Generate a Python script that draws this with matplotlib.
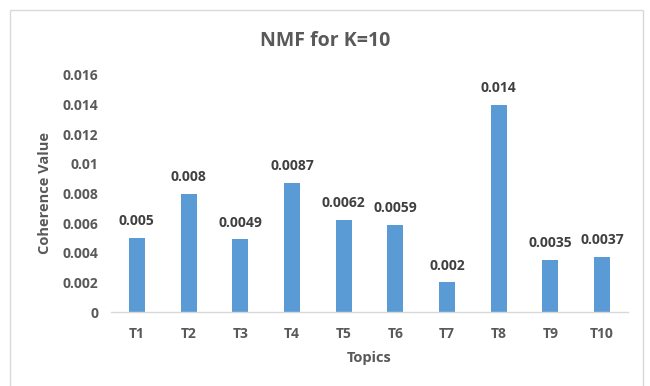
import matplotlib
matplotlib.use("Agg")
import matplotlib.pyplot as plt
from matplotlib.patches import Rectangle

topics = ["T1", "T2", "T3", "T4", "T5", "T6", "T7", "T8", "T9", "T10"]
coherence = [0.005, 0.008, 0.0049, 0.0087, 0.0062, 0.0059, 0.002, 0.014, 0.0035, 0.0037]
value_labels = ["0.005", "0.008", "0.0049", "0.0087", "0.0062", "0.0059", "0.002", "0.014", "0.0035", "0.0037"]
y_ticks = [0, 0.002, 0.004, 0.006, 0.008, 0.01, 0.012, 0.014, 0.016]
y_tick_labels = ["0", "0.002", "0.004", "0.006", "0.008", "0.01", "0.012", "0.014", "0.016"]

plt.rcParams["font.family"] = ["Open Sans", "DejaVu Sans"]
text_color = "#595959"
bar_color = "#5B9BD5"

W, H = 650, 386
fig = plt.figure(figsize=(W / 100, H / 100), dpi=100)
fig.patch.set_facecolor("white")

# chart area border
fig.patches.append(Rectangle((10 / W, -0.05), 633 / W, (H - 10) / H + 0.05,
                             transform=fig.transFigure, fill=False,
                             edgecolor="#D9D9D9", linewidth=1.0))

ax = fig.add_axes([111 / W, (H - 312) / H, (628 - 111) / W, (312 - 75) / H])
x = list(range(len(topics)))
ax.bar(x, coherence, width=0.31, color=bar_color)
ax.set_xlim(-0.5, len(topics) - 0.5)
ax.set_ylim(0, 0.016)

for xi, v, lab in zip(x, coherence, value_labels):
    ax.annotate(lab, (xi, v), xytext=(0, 7), textcoords="offset points",
                ha="center", va="bottom", fontsize=10, fontweight="bold",
                color="#404040")

ax.set_xticks(x)
ax.set_xticklabels(topics, fontsize=10, fontweight="bold", color=text_color)
ax.set_yticks(y_ticks)
ax.set_yticklabels(y_tick_labels, fontsize=10, fontweight="bold", color=text_color)
ax.tick_params(axis="both", length=0)
ax.tick_params(axis="x", pad=11)
ax.tick_params(axis="y", pad=9)

for side in ["top", "right", "left"]:
    ax.spines[side].set_visible(False)
ax.spines["bottom"].set_color("#D9D9D9")
ax.spines["bottom"].set_linewidth(1.0)

ax.set_xlabel("Topics", fontsize=10.5, fontweight="bold", color=text_color, labelpad=7)
ax.set_ylabel("Coherence Value", fontsize=10.5, fontweight="bold", color=text_color, labelpad=8)

fig.text(325 / W, (H - 41) / H, "NMF for K=10", ha="center", va="center",
         fontsize=14, fontweight="bold", color=text_color)

fig.savefig("out.png", dpi=100)
